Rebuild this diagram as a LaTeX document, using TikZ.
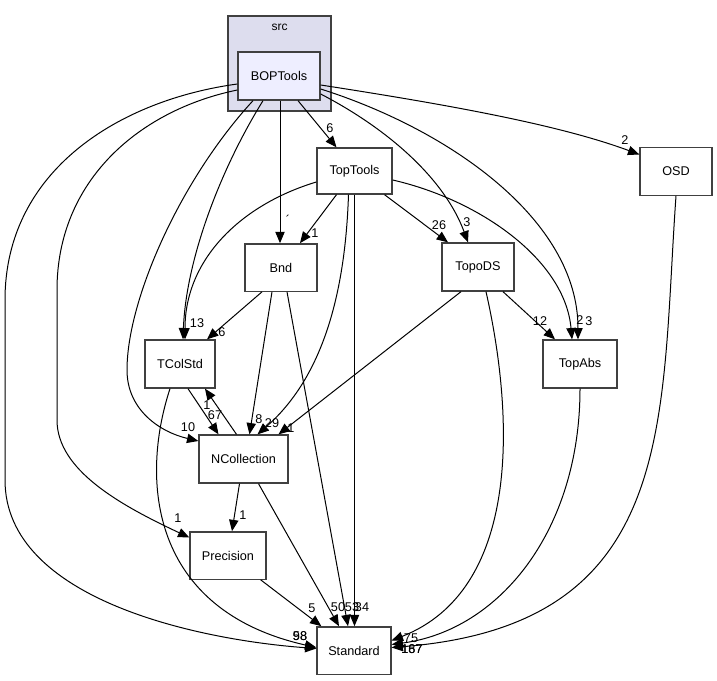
\documentclass[tikz,border=0pt]{standalone}
\usepackage{fontspec}
\setmainfont{Liberation Sans}
\usetikzlibrary{arrows.meta,calc}
\definecolor{dxCluster}{RGB}{221,221,238}
\definecolor{dxFocus}{RGB}{238,238,255}
\definecolor{dxEdge}{RGB}{64,64,64}
\begin{document}
\begin{tikzpicture}[
  x=0.75pt, y=-0.75pt,
  box/.style={draw=dxEdge, line width=1pt, fill=white, minimum height=35.5pt, inner sep=0pt, font=\fontsize{9.5}{11}\selectfont},
  arr/.style={-{Triangle[length=8.5pt,width=7pt]}, line width=0.75pt},
  num/.style={font=\fontsize{9.5}{11}\selectfont, inner sep=0pt},
]
\useasboundingbox (0,0) rectangle (717,681);
% src cluster
\node[draw=dxEdge, line width=1pt, fill=dxCluster, minimum width=77.25pt, minimum height=71.25pt, inner sep=0pt] (src) at (279.5,63.5) {};
\node[font=\fontsize{9}{11}\selectfont] (srctitle) at (279.5,27) {src};
% packages
\node[box, fill=dxFocus, minimum width=61.5pt, minimum height=36pt] (boptools) at (279,76) {BOPTools};
\node[box, minimum width=56.25pt, minimum height=34.5pt] (toptools) at (354.5,171) {TopTools};
\node[box, minimum width=54pt] (osd) at (676,171.5) {OSD};
\node[box, minimum width=54pt] (bnd) at (281,267.5) {Bnd};
\node[box, minimum width=54pt, minimum height=36pt] (topods) at (478,267) {TopoDS};
\node[box, minimum width=52.5pt, minimum height=36pt] (tcolstd) at (180,364) {TColStd};
\node[box, minimum width=55.5pt, minimum height=36pt] (topabs) at (580,364) {TopAbs};
\node[box, minimum width=66.75pt, minimum height=36pt] (ncollection) at (243.5,459) {NCollection};
\node[box, minimum width=57pt] (precision) at (228,555.5) {Precision};
\node[box, minimum width=55.5pt] (standard) at (354,650.5) {Standard};
% edges from BOPTools
\draw[arr] ($(boptools.west)+(0,8)$) .. controls (120,100) and (5,170) .. (5,300) -- (5,480)
  .. controls (5,600) and (200,640) .. ($(standard.west)+(0,-2)$);
\draw[arr] ($(boptools.west)+(0,14)$) .. controls (140,110) and (57,180) .. (57,290) -- (57,420)
  .. controls (57,470) and (120,505) .. ($(precision.west)+(0,-18)$);
\draw[arr] ($(boptools.south)+(-26,0)$) .. controls (180,180) and (127,300) .. (127,370)
  .. controls (127,410) and (160,432) .. ($(ncollection.west)+(0,-18)$);
\draw[arr] ($(boptools.south)+(-16,0)$) .. controls (220,170) and (186,260) .. ($(tcolstd.north)+(3,0)$);
\draw[arr] ($(boptools.south)+(1,0)$) -- ($(bnd.north)+(-1,0)$);
\draw[arr] ($(boptools.south)+(19,0)$) -- ($(toptools.north)+(-18,0)$);
\draw[arr] ($(boptools.east)+(0,18)$) .. controls (390,130) and (445,180) .. ($(topods.north)+(-10,0)$);
\draw[arr] ($(boptools.east)+(0,13)$) .. controls (450,130) and (578,220) .. ($(topabs.north)+(-2,0)$);
\draw[arr] ($(boptools.east)+(0,9)$) .. controls (450,105) and (560,125) .. ($(osd.west)+(0,-17)$);
% edges from TopTools
\draw[arr] ($(toptools.west)+(0,11)$) .. controls (240,205) and (185,260) .. ($(tcolstd.north)+(5,0)$);
\draw[arr] ($(toptools.south)+(-18,0)$) -- ($(bnd.north)+(19,0)$);
\draw[arr] ($(toptools.south)+(30,0)$) -- ($(topods.north)+(-30,0)$);
\draw[arr] ($(toptools.east)+(0,9)$) .. controls (480,200) and (565,260) .. ($(topabs.north)+(-8,0)$);
\draw[arr] ($(toptools.south)+(-6,0)$) .. controls (345,300) and (320,380) .. ($(ncollection.north)+(14,0)$);
\draw[arr] (toptools.south) -- (toptools.south |- standard.north);
% edges from Bnd
\draw[arr] ($(bnd.south)+(-19,0)$) -- ($(tcolstd.north)+(27,0)$);
\draw[arr] ($(bnd.south)+(-9,0)$) -- ($(ncollection.north)+(6,0)$);
\draw[arr] ($(bnd.south)+(6,0)$) -- ($(standard.north)+(-6,0)$);
% edges from TopoDS
\draw[arr] ($(topods.south)+(-17,0)$) -- ($(ncollection.north)+(35,0)$);
\draw[arr] ($(topods.south)+(25,0)$) -- ($(topabs.north)+(-25,0)$);
\draw[arr] ($(topods.south)+(8,0)$) .. controls (515,420) and (520,590) .. ($(standard.east)+(0,-10)$);
% edges from TopAbs and OSD
\draw[arr] (topabs.south) .. controls (580,530) and (500,630) .. ($(standard.east)+(0,-6)$);
\draw[arr] (osd.south) .. controls (660,420) and (680,625) .. ($(standard.east)+(0,-3)$);
% edges from TColStd, NCollection, Precision
\draw[arr] ($(tcolstd.south)+(8,0)$) -- ($(ncollection.north)+(-25,0)$);
\draw[arr] ($(ncollection.north)+(-7,0)$) -- ($(tcolstd.south)+(25,0)$);
\draw[arr] ($(tcolstd.south)+(-10,0)$) .. controls (140,480) and (150,610) .. ($(standard.west)+(0,-3)$);
\draw[arr] ($(ncollection.south)+(-4,0)$) -- ($(precision.north)+(4,0)$);
\draw[arr] ($(ncollection.south)+(15,0)$) -- ($(standard.north)+(-15,0)$);
\draw[arr] ($(precision.south east)+(-6,0)$) -- ($(standard.north west)+(5,0)$);
% edge labels
\node[num] (nStdA) at (300,636) {98};
\node[num] (nStdB) at (300,636) {58};
\node[num] (nPrecA) at (178,518) {1};
\node[num] (nNColA) at (188,427) {10};
\node[num] (nTColA) at (197,323) {13};
\node[num] (nBndA) at (288,220) {´};
\node[num] (nTopT) at (330,128) {6};
\node[num] (nTopoA) at (467,222) {3};
\node[num] (nAbsA) at (589,321) {3};
\node[num] (nOsd) at (625,140) {2};
\node[num] (nBndB) at (315,233) {1};
\node[num] (nTopoB) at (439,225) {26};
\node[num] (nAbsB) at (580,320) {2};
\node[num] (nNColB) at (272,423) {29};
\node[num] (nStdC) at (362,607) {34};
\node[num] (nTColB) at (222,332) {6};
\node[num] (nNColC) at (259,419) {8};
\node[num] (nStdD) at (352,607) {53};
\node[num] (nNColD) at (291,428) {1};
\node[num] (nAbsC) at (540,321) {12};
\node[num] (nStdE) at (411,638) {75};
\node[num] (nStdF) at (412,649) {167};
\node[num] (nStdG) at (412,649) {187};
\node[num] (nNColE) at (215,415) {67};
\node[num] (nTColC) at (207,405) {1};
\node[num] (nPrecB) at (243,515) {1};
\node[num] (nStdH) at (338,607) {50};
\node[num] (nStdI) at (312,608) {5};
\end{tikzpicture}
\end{document}
